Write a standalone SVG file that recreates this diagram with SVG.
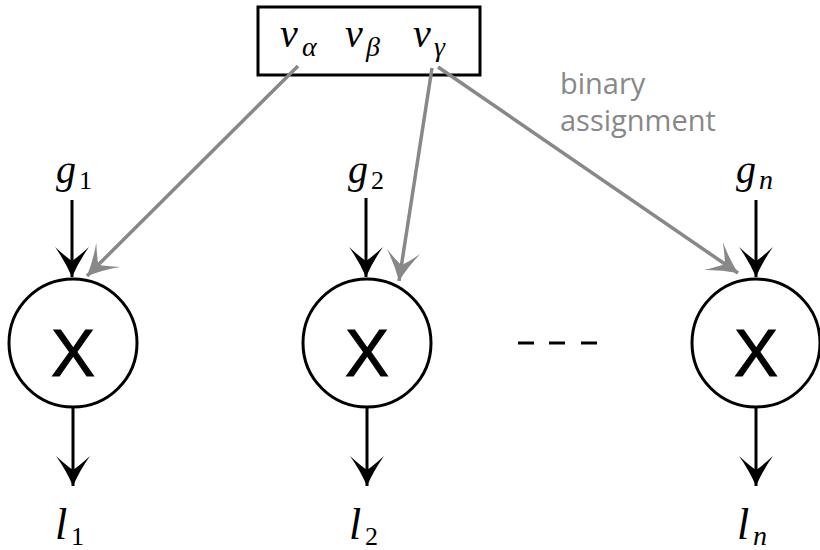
<svg xmlns="http://www.w3.org/2000/svg" width="820" height="550" viewBox="0 0 820 550">
<style>
.node{fill:#fff;stroke:#000;stroke-width:3}
.blk{stroke:#000;stroke-width:3;fill:none}
.gry{stroke:#888;stroke-width:3.5;fill:none}
.m{font-style:italic;font-size:40px;fill:#000}
.s{font-size:26px;fill:#000}
.si{font-style:italic;font-size:28px;fill:#000}
.x{font-size:66px;fill:#000;stroke:#000;stroke-width:1;text-anchor:middle}
.lab{font-family:"Open Sans",sans-serif;font-size:29px;fill:#888}
</style>
<defs>
<marker id="ab" markerUnits="userSpaceOnUse" markerWidth="40" markerHeight="40" viewBox="-32 -20 34 40" refX="0" refY="0" orient="auto">
<path d="M0,0 Q-16,-7 -30,-17 Q-20,-6 -16,0 Q-20,6 -30,17 Q-16,7 0,0 Z" fill="#000"/>
</marker>
<marker id="ag" markerUnits="userSpaceOnUse" markerWidth="40" markerHeight="40" viewBox="-32 -20 34 40" refX="0" refY="0" orient="auto">
<path d="M0,0 Q-16,-7 -30,-17 Q-20,-6 -16,0 Q-20,6 -30,17 Q-16,7 0,0 Z" fill="#888"/>
</marker>
</defs>
<g id="vars" font-family="Liberation Serif, Times New Roman, DejaVu Serif, serif">
<rect x="258" y="7" width="222" height="68" fill="#fff" stroke="#000" stroke-width="3"/>
<text class="m" x="280" y="47">v</text><text class="si" x="302" y="56">α</text>
<text class="m" x="345" y="47">v</text><text class="si" x="366" y="56">β</text>
<text class="m" x="413" y="47">v</text><text class="si" x="434" y="56">γ</text>
</g>
<g id="connectors">
<line class="blk" x1="72" y1="200" x2="72" y2="277" marker-end="url(#ab)"/>
<line class="blk" x1="366" y1="198" x2="366" y2="277" marker-end="url(#ab)"/>
<line class="blk" x1="756" y1="200" x2="756" y2="277" marker-end="url(#ab)"/>
<line class="blk" x1="73" y1="408" x2="73" y2="486" marker-end="url(#ab)"/>
<line class="blk" x1="367" y1="408" x2="367" y2="486" marker-end="url(#ab)"/>
<line class="blk" x1="756" y1="408" x2="756" y2="486" marker-end="url(#ab)"/>
<line class="gry" x1="298" y1="66" x2="87" y2="276" marker-end="url(#ag)"/>
<line class="gry" x1="432" y1="68" x2="399" y2="281" marker-end="url(#ag)"/>
<line class="gry" x1="438" y1="67" x2="738" y2="273" marker-end="url(#ag)"/>
</g>
<g id="n1" font-family="Liberation Sans, Arial, Helvetica, sans-serif"><circle class="node" cx="73" cy="343" r="64"/><text class="x" x="73" y="376">X</text></g>
<g id="n2" font-family="Liberation Sans, Arial, Helvetica, sans-serif"><circle class="node" cx="367" cy="343" r="64"/><text class="x" x="367" y="376">X</text></g>
<g id="n3" font-family="Liberation Sans, Arial, Helvetica, sans-serif"><circle class="node" cx="756" cy="343" r="64"/><text class="x" x="756" y="376">X</text></g>
<g id="dots">
<line class="blk" stroke-width="4" x1="518" y1="343" x2="534" y2="343"/>
<line class="blk" stroke-width="4" x1="549" y1="343" x2="565" y2="343"/>
<line class="blk" stroke-width="4" x1="581" y1="343" x2="597" y2="343"/>
</g>
<g id="inputs" font-family="Liberation Serif, Times New Roman, DejaVu Serif, serif">
<text class="m" x="56" y="183">g</text><text class="s" x="79" y="189">1</text>
<text class="m" x="348" y="183">g</text><text class="s" x="371" y="189">2</text>
<text class="m" x="736" y="183">g</text><text class="si" x="759" y="189">n</text>
</g>
<g id="outputs" font-family="Liberation Serif, Times New Roman, DejaVu Serif, serif">
<text class="m" style="font-size:44px" x="55" y="539">l</text><text class="s" x="71" y="545">1</text>
<text class="m" style="font-size:44px" x="349" y="539">l</text><text class="s" x="365" y="545">2</text>
<text class="m" style="font-size:44px" x="737" y="539">l</text><text class="si" x="753" y="545">n</text>
</g>
<text class="lab" x="560" y="94">binary</text>
<text class="lab" x="560" y="131">assignment</text>
</svg>
